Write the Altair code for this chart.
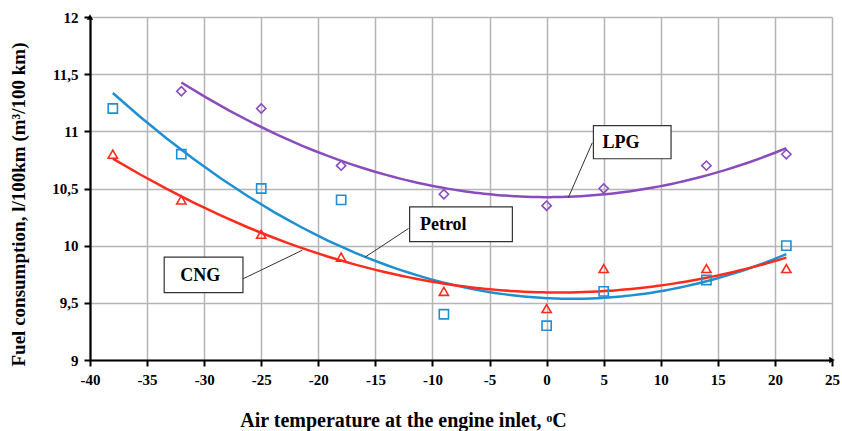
import altair as alt
import pandas as pd

# ---- data ----
fuels = ["Petrol", "CNG", "LPG"]
temps_petrol = [-38, -32, -25, -18, -9, 0, 5, 14, 21]
petrol = [11.2, 10.8, 10.5, 10.4, 9.4, 9.3, 9.6, 9.7, 10.0]
temps_cng = [-38, -32, -25, -18, -9, 0, 5, 14, 21]
cng = [10.8, 10.4, 10.1, 9.9, 9.6, 9.45, 9.8, 9.8, 9.8]
temps_lpg = [-32, -25, -18, -9, 0, 5, 14, 21]
lpg = [11.35, 11.2, 10.7, 10.45, 10.35, 10.5, 10.7, 10.8]

colors = ["#1f8fd3", "#ff2b1c", "#8a4cbd"]
shapes = ["square", "triangle-up", "diamond"]

x_ticks = list(range(-40, 26, 5))
y_ticks = [9, 9.5, 10, 10.5, 11, 11.5, 12]

# label boxes (data coordinates)
ann_label = ["LPG", "Petrol", "CNG"]
ann_box_x = [4.1, -12.0, -33.5]
ann_box_x2 = [10.9, -3.0, -26.6]
ann_box_y = [11.05, 10.34, 9.90]
ann_box_y2 = [10.76, 10.035, 9.59]
ann_text_x = [4.9, -11.1, -32.1]
ann_text_y = [10.895, 10.18, 9.735]
lead_x = [4.0, -12.1, -26.6]
lead_y = [10.90, 10.15, 9.71]
lead_x2 = [1.9, -15.9, -21.4]
lead_y2 = [10.42, 9.90, 9.96]

rows = []
for t, v in zip(temps_petrol, petrol):
    rows.append({"temp": t, "value": v, "fuel": "Petrol"})
for t, v in zip(temps_cng, cng):
    rows.append({"temp": t, "value": v, "fuel": "CNG"})
for t, v in zip(temps_lpg, lpg):
    rows.append({"temp": t, "value": v, "fuel": "LPG"})
df = pd.DataFrame(rows)

ann = pd.DataFrame({
    "label": ann_label, "bx": ann_box_x, "bx2": ann_box_x2, "by": ann_box_y, "by2": ann_box_y2,
    "tx": ann_text_x, "ty": ann_text_y, "lx": lead_x, "ly": lead_y, "lx2": lead_x2, "ly2": lead_y2,
})

FONT = "Liberation Serif"

xscale = alt.Scale(domain=[-40, 25], nice=False, zero=False)
yscale = alt.Scale(domain=[9, 12], nice=False, zero=False)

common = dict(
    grid=True, gridColor="#b5b5b5", gridWidth=1.5,
    domainColor="black", domainWidth=2.2,
    tickColor="black", tickWidth=2, tickSize=6,
    labelFont=FONT, labelFontSize=15, labelFontWeight="bold", labelColor="black",
    labelPadding=6, labelFlush=False, labelOverlap=False,
    titleFont=FONT, titleFontWeight="bold", titleColor="black",
)

xaxis = alt.Axis(
    values=x_ticks, title="Air temperature at the engine inlet, ᵒC",
    labelExpr="toString(datum.value)",
    titleX=313, titleY=50, titleBaseline="top", titleFontSize=20,
    **common,
)
yaxis = alt.Axis(
    values=y_ticks, title="Fuel consumption, l/100km (m³/100 km)",
    labelExpr="replace(format(datum.value, '.1~f'), '.', ',')",
    titleX=-62, titleY=187, titleFontSize=19,
    **common,
)

color = alt.Color("fuel:N", scale=alt.Scale(domain=fuels, range=colors), legend=None)
shape = alt.Shape("fuel:N", scale=alt.Scale(domain=fuels, range=shapes), legend=None)

base = alt.Chart(df)

lines = base.transform_regression(
    "temp", "value", groupby=["fuel"], method="poly", order=2
).mark_line(strokeWidth=2.5).encode(
    x=alt.X("temp:Q", scale=xscale, axis=xaxis),
    y=alt.Y("value:Q", scale=yscale, axis=yaxis),
    color=color,
    detail="fuel:N",
)

points = base.mark_point(filled=False, strokeWidth=1.6, size=85, opacity=1).encode(
    x=alt.X("temp:Q", scale=xscale),
    y=alt.Y("value:Q", scale=yscale),
    color=color,
    shape=shape,
)

annb = alt.Chart(ann)
leaders = annb.mark_rule(color="#333333", strokeWidth=1).encode(
    x=alt.X("lx:Q", scale=xscale), x2="lx2:Q",
    y=alt.Y("ly:Q", scale=yscale), y2="ly2:Q",
)
boxes = annb.mark_rect(fill="white", stroke="#333333", strokeWidth=1.2).encode(
    x=alt.X("bx:Q", scale=xscale), x2="bx2:Q",
    y=alt.Y("by:Q", scale=yscale), y2="by2:Q",
)
texts = annb.mark_text(font=FONT, fontSize=18, fontWeight="bold", align="left",
                       baseline="middle", color="black").encode(
    x=alt.X("tx:Q", scale=xscale),
    y=alt.Y("ty:Q", scale=yscale),
    text="label:N",
)

arrows_df = pd.DataFrame({"ax": [-40, 25], "ay": [12, 9], "shape": ["triangle-up", "triangle-right"]})
arrows = alt.Chart(arrows_df).mark_point(filled=True, color="black", size=40, opacity=1).encode(
    x=alt.X("ax:Q", scale=xscale),
    y=alt.Y("ay:Q", scale=yscale),
    shape=alt.Shape("shape:N", scale=None, legend=None),
)

chart = alt.layer(lines, points, leaders, boxes, texts, arrows).properties(
    width=742, height=343,
    autosize=alt.AutoSizeParams(type="none"),
    padding={"left": 90, "top": 17, "right": 10, "bottom": 71},
    background="white",
).configure_view(stroke=None)

chart.save("out.html", embed_options={"renderer": "svg", "actions": False})
